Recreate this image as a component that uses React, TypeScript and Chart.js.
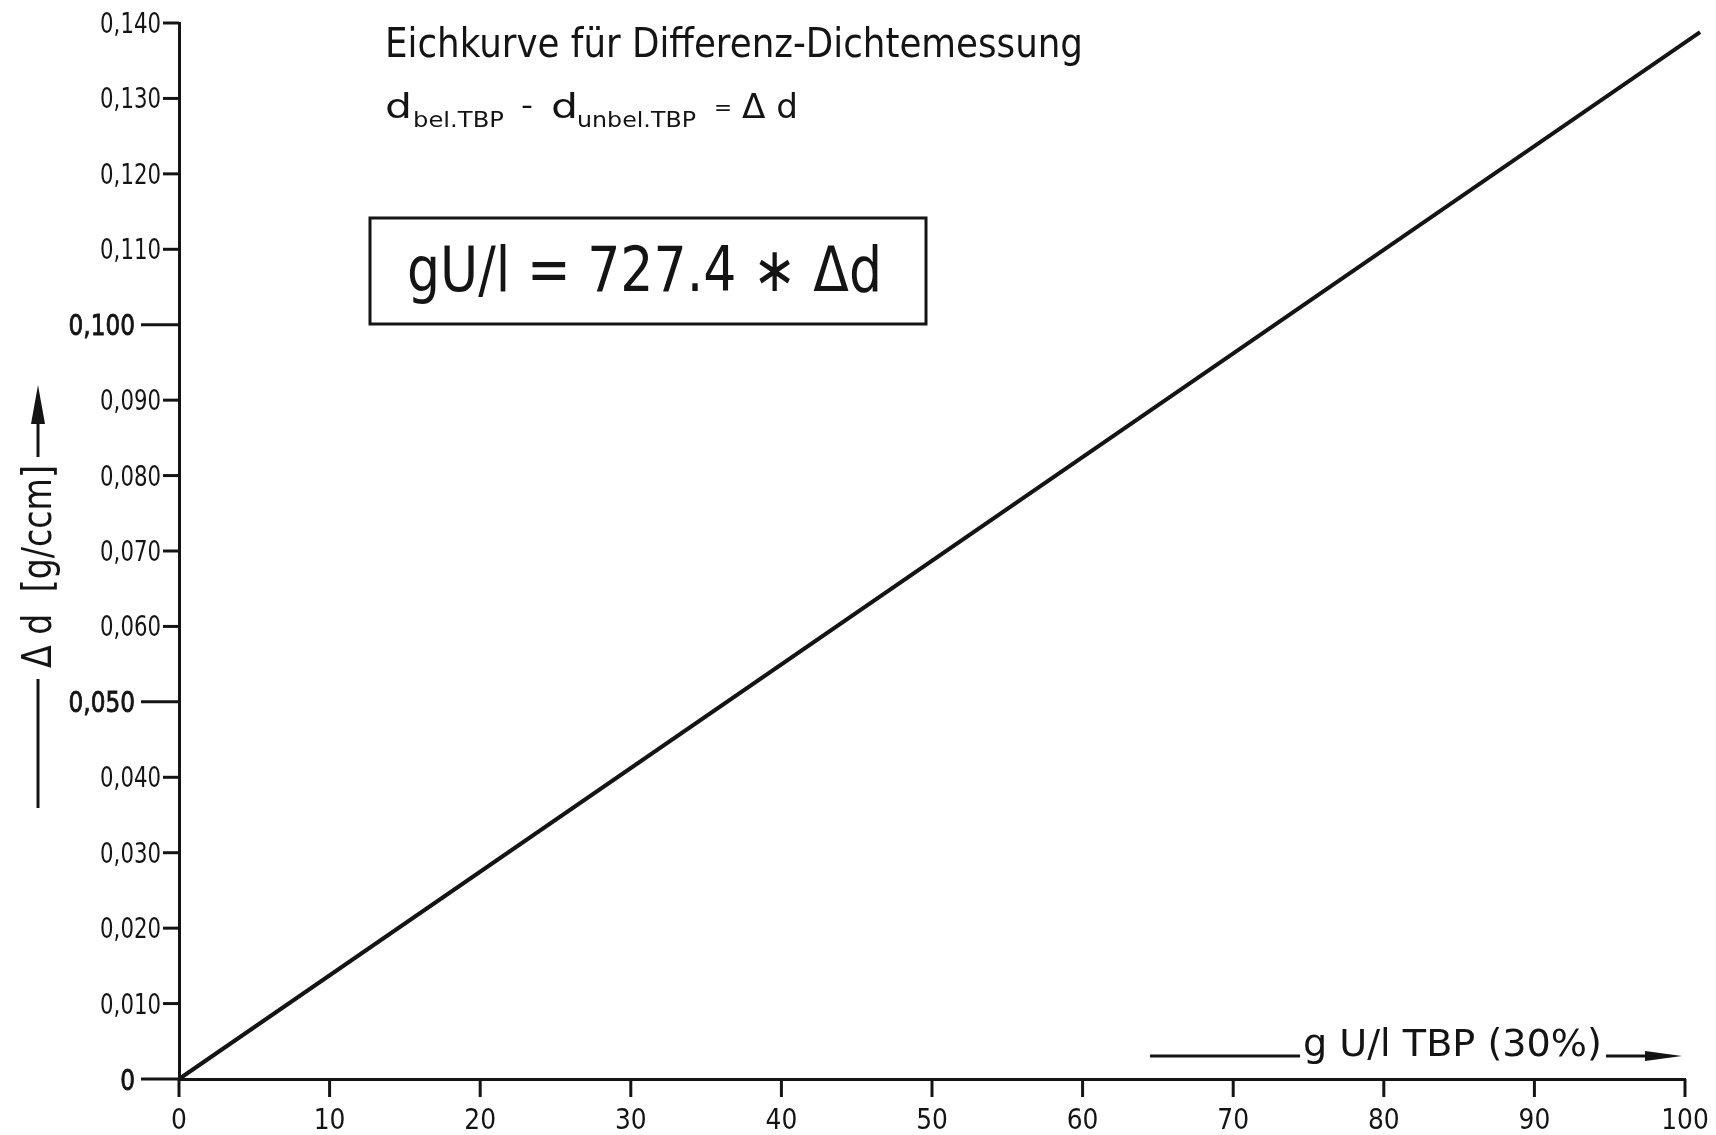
import React, { useEffect, useRef } from "react";
import { Chart, registerables } from "chart.js";

Chart.register(...registerables);

// ---- data ----
const xValues = [0, 101];
const yValues = [0, 0.1388];

const xTickValues = [0, 10, 20, 30, 40, 50, 60, 70, 80, 90, 100];
const xTickLabels = ["0", "10", "20", "30", "40", "50", "60", "70", "80", "90", "100"];

const yTickValues = [0, 0.01, 0.02, 0.03, 0.04, 0.05, 0.06, 0.07, 0.08, 0.09, 0.1, 0.11, 0.12, 0.13, 0.14];
const yTickLabels = ["0", "0,010", "0,020", "0,030", "0,040", "0,050", "0,060", "0,070", "0,080", "0,090", "0,100", "0,110", "0,120", "0,130", "0,140"];
const yEmphasized = ["0", "0,050", "0,100"];

const titleText = "Eichkurve für Differenz-Dichtemessung";
const subMain1 = "d";
const subSub1 = "bel.TBP";
const subMinus = "-";
const subMain2 = "d";
const subSub2 = "unbel.TBP";
const subEq = "=";
const subDelta = "Δ d";
const formulaText = "gU/l = 727.4 ∗ Δd";
const yAxisTitle = "Δ d  [g/ccm]";
const xAxisTitle = "g U/l TBP (30%)";

const FONT = '"DejaVu Sans", "Liberation Sans", sans-serif';
const INK = "#141414";

function drawFit(
  ctx: CanvasRenderingContext2D,
  text: string,
  x: number,
  y: number,
  size: number,
  width: number,
  weight = "normal"
) {
  ctx.font = `${weight} ${size}px ${FONT}`;
  const w = ctx.measureText(text).width;
  ctx.save();
  ctx.translate(x, y);
  ctx.scale(width / w, 1);
  ctx.textAlign = "left";
  ctx.textBaseline = "alphabetic";
  ctx.fillText(text, 0, 0);
  ctx.restore();
}

function drawScaled(
  ctx: CanvasRenderingContext2D,
  text: string,
  x: number,
  y: number,
  size: number,
  sx: number,
  align: "left" | "right" | "center",
  strokeW = 0
) {
  ctx.font = `normal ${size}px ${FONT}`;
  const w = ctx.measureText(text).width * sx;
  let left = x;
  if (align === "right") left = x - w;
  else if (align === "center") left = x - w / 2;
  ctx.save();
  ctx.translate(left, y);
  ctx.scale(sx, 1);
  ctx.textAlign = "left";
  ctx.textBaseline = "alphabetic";
  ctx.fillText(text, 0, 0);
  if (strokeW > 0) {
    ctx.lineWidth = strokeW;
    ctx.strokeText(text, 0, 0);
  }
  ctx.restore();
}

function line(ctx: CanvasRenderingContext2D, x1: number, y1: number, x2: number, y2: number, w: number) {
  ctx.lineWidth = w;
  ctx.beginPath();
  ctx.moveTo(x1, y1);
  ctx.lineTo(x2, y2);
  ctx.stroke();
}

const decorPlugin = {
  id: "decor",
  afterDraw(chart: any) {
    const ctx: CanvasRenderingContext2D = chart.ctx;
    const xs = chart.scales.x;
    const ys = chart.scales.y;
    const area = chart.chartArea;
    ctx.save();
    ctx.strokeStyle = INK;
    ctx.fillStyle = INK;
    ctx.lineCap = "butt";

    // y ticks + labels
    yTickValues.forEach((v, i) => {
      const py = ys.getPixelForValue(v);
      const lab = yTickLabels[i];
      const emph = yEmphasized.includes(lab);
      const tickStart = emph ? area.left - 38 : area.left - 16;
      line(ctx, tickStart, py, area.left, py, 3);
      if (emph) {
        drawScaled(ctx, lab, tickStart - 6, py + 10.5, 29, 0.8, "right", 0.9);
      } else {
        drawScaled(ctx, lab, area.left - 18, py + 10, 28, 0.76, "right");
      }
    });

    // x ticks + labels
    xTickValues.forEach((v, i) => {
      const px = xs.getPixelForValue(v);
      line(ctx, px, area.bottom, px, area.bottom + 18, 3);
      drawScaled(ctx, xTickLabels[i], px, area.bottom + 50, 29, 0.86, "center");
    });

    // title
    drawFit(ctx, titleText, 385, 57, 41, 698);

    // subtitle pieces
    drawFit(ctx, subMain1, 385, 118, 34, 27);
    drawFit(ctx, subSub1, 413, 127, 21, 91);
    drawFit(ctx, subMinus, 521, 115, 28, 12);
    drawFit(ctx, subMain2, 551, 118, 34, 27);
    drawFit(ctx, subSub2, 577, 127, 21, 119);
    drawFit(ctx, subEq, 714, 115, 22, 18);
    drawFit(ctx, subDelta, 742, 118, 34, 56);

    // formula box
    ctx.lineWidth = 3;
    ctx.strokeRect(370, 218, 556, 106);
    drawFit(ctx, formulaText, 407, 291, 62, 475);

    // y axis title (rotated)
    line(ctx, 38, 808, 38, 679, 3);
    ctx.save();
    ctx.translate(51, 668);
    ctx.rotate(-Math.PI / 2);
    ctx.fillStyle = INK;
    drawFit(ctx, yAxisTitle, 0, 0, 40, 203);
    ctx.restore();
    line(ctx, 38, 457, 38, 422, 3);
    ctx.beginPath();
    ctx.moveTo(31, 424);
    ctx.lineTo(45, 424);
    ctx.lineTo(38, 385);
    ctx.closePath();
    ctx.fill();

    // x axis title
    line(ctx, 1150, 1056, 1300, 1056, 3);
    drawFit(ctx, xAxisTitle, 1303, 1056, 37, 299);
    line(ctx, 1606, 1056, 1650, 1056, 3);
    ctx.beginPath();
    ctx.moveTo(1645, 1051);
    ctx.lineTo(1682, 1056);
    ctx.lineTo(1645, 1061);
    ctx.closePath();
    ctx.fill();

    ctx.restore();
  },
};

export default function App() {
  const canvasRef = useRef<HTMLCanvasElement | null>(null);

  useEffect(() => {
    document.body.style.margin = "0";
    const canvas = canvasRef.current;
    if (!canvas) return;
    const chart = new Chart(canvas, {
      type: "line",
      data: {
        datasets: [
          {
            data: xValues.map((x, i) => ({ x, y: yValues[i] })),
            borderColor: INK,
            borderWidth: 4,
            pointRadius: 0,
            fill: false,
            tension: 0,
            clip: false as any,
          },
        ],
      },
      options: {
        animation: false,
        responsive: false,
        maintainAspectRatio: false,
        devicePixelRatio: 1,
        layout: { padding: { left: 179, right: 31, top: 23, bottom: 56 } },
        plugins: {
          legend: { display: false },
          tooltip: { enabled: false },
          title: { display: false },
        },
        scales: {
          x: {
            type: "linear",
            min: 0,
            max: 100,
            grid: { display: false, drawTicks: false },
            border: { display: true, width: 3, color: INK },
            ticks: { display: false },
          },
          y: {
            type: "linear",
            min: 0,
            max: 0.14,
            grid: { display: false, drawTicks: false },
            border: { display: true, width: 3, color: INK },
            ticks: { display: false },
          },
        },
      },
      plugins: [decorPlugin],
    });
    return () => chart.destroy();
  }, []);

  return (
    <div style={{ width: 1716, height: 1135, background: "#fff" }}>
      <canvas ref={canvasRef} width={1716} height={1135} style={{ display: "block" }} />
    </div>
  );
}
